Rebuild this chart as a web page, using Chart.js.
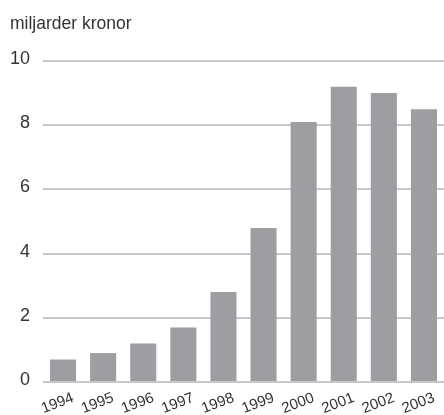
<!DOCTYPE html>
<html>
<head>
<meta charset="utf-8">
<script src="https://cdn.jsdelivr.net/npm/chart.js@4"></script>
<style>
  html, body { margin: 0; padding: 0; background: #fff; }
  #wrap { width: 444px; height: 415px; }
</style>
</head>
<body>
<div id="wrap"><canvas id="chart"></canvas></div>
<script>
const years = ['1994', '1995', '1996', '1997', '1998', '1999', '2000', '2001', '2002', '2003'];
const values = [0.7, 0.9, 1.2, 1.7, 2.8, 4.8, 8.1, 9.2, 9.0, 8.5];
const unitLabel = 'miljarder kronor';

const textColor = '#333';
const font = 'Liberation Sans, Helvetica, Arial, sans-serif';

new Chart(document.getElementById('chart'), {
  type: 'bar',
  data: {
    labels: years,
    datasets: [{
      data: values,
      backgroundColor: '#9d9ea2',
      barPercentage: 0.65,
      categoryPercentage: 1,
    }],
  },
  options: {
    responsive: true,
    maintainAspectRatio: false,
    animation: false,
    layout: { padding: { left: 10, right: 0, top: 0, bottom: 0 } },
    plugins: {
      legend: { display: false },
      tooltip: { enabled: false },
      title: {
        display: true,
        text: unitLabel,
        align: 'start',
        color: textColor,
        font: { family: font, size: 17.5, weight: 'normal' },
        padding: { top: 14, bottom: 26 },
      },
    },
    scales: {
      x: {
        grid: { display: false, drawTicks: false },
        border: { display: false },
        ticks: {
          color: textColor,
          font: { family: font, size: 15 },
          autoSkip: false,
          minRotation: 21,
          maxRotation: 21,
          padding: 7,
          labelOffset: 10,
        },
        afterFit: (scale) => { scale.height = 33; },
      },
      y: {
        min: 0,
        max: 10,
        grid: { color: '#c8c8cc', lineWidth: 2, drawTicks: false },
        border: { display: false },
        ticks: {
          stepSize: 2,
          color: textColor,
          font: { family: font, size: 18 },
          padding: 13,
          labelOffset: -2,
        },
        afterFit: (scale) => { scale.width = 33; },
      },
    },
  },
});
</script>
</body>
</html>
